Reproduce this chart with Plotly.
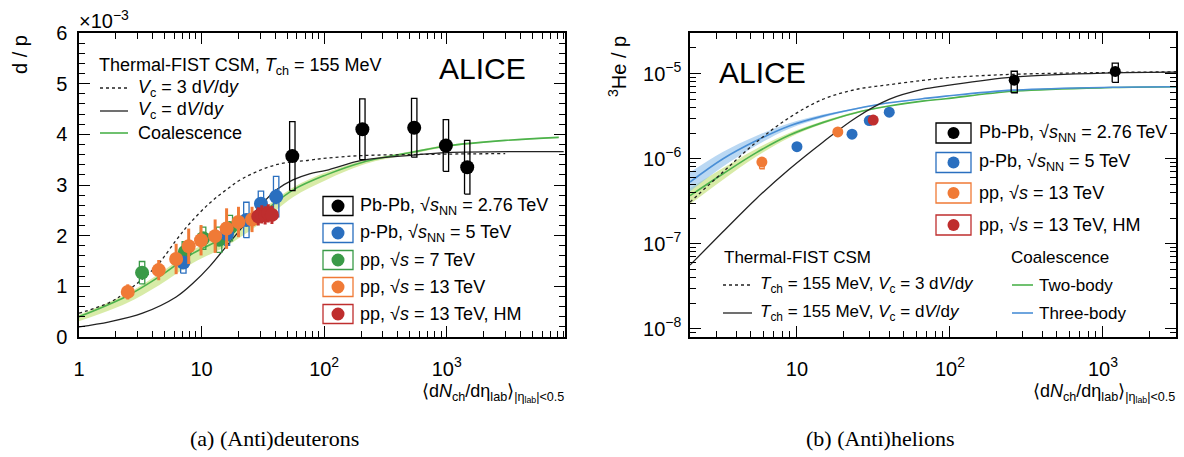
import plotly.graph_objects as go
import numpy as np

# ---------------- data: (a) (Anti)deuterons, d/p in units of 1e-3 ----------------
pbpb_x = [55, 205, 543, 985, 1470]
pbpb_y = [3.57, 4.10, 4.13, 3.78, 3.35]
pbpb_sys = [0.68, 0.60, 0.58, 0.51, 0.53]
pbpb_stat = [0.10, 0.08, 0.07, 0.07, 0.09]

ppb_x = [7.1, 16.1, 23.2, 30.5, 40.6]
ppb_y = [1.47, 2.03, 2.31, 2.63, 2.77]
ppb_sys = [0.21, 0.22, 0.35, 0.25, 0.40]
ppb_stat = [0.12, 0.10, 0.12, 0.12, 0.15]

pp7_x = [3.27, 7.3, 10.3, 13.9, 17.0]
pp7_y = [1.27, 1.68, 1.95, 1.92, 2.15]
pp7_sys = [0.22, 0.20, 0.22, 0.25, 0.25]
pp7_stat = [0.10, 0.10, 0.10, 0.10, 0.12]

pp13_x = [2.5, 4.47, 6.2, 7.85, 9.9, 12.9, 16.0, 20.0, 25.8]
pp13_y = [0.89, 1.32, 1.54, 1.79, 1.91, 1.99, 2.14, 2.27, 2.32]
pp13_err = [0.15, 0.20, 0.30, 0.35, 0.30, 0.33, 0.40, 0.30, 0.25]

hm_x = [29.0, 31.0, 33.0, 35.0, 37.5]
hm_y = [2.38, 2.42, 2.40, 2.44, 2.41]
hm_err = [0.18, 0.18, 0.18, 0.18, 0.18]

# model curves
csm3_x = [1, 1.77, 2.42, 4.25, 6.2, 8.0, 11.6, 15.8, 21.7, 40.5, 76, 104, 200, 500, 1000, 3000]
csm3_y = [0.47, 0.68, 0.89, 1.39, 1.91, 2.24, 2.64, 2.90, 3.13, 3.40, 3.49, 3.53, 3.58, 3.60, 3.61, 3.62]
csm1_x = [1, 1.77, 3.3, 6.2, 8.5, 11.6, 15.8, 21.7, 29.7, 40.5, 55.6, 76, 104, 207, 530, 1000, 9000]
csm1_y = [0.20, 0.30, 0.47, 0.79, 1.06, 1.39, 1.78, 2.18, 2.57, 2.90, 3.10, 3.22, 3.29, 3.49, 3.59, 3.64, 3.66]
coal_x = [1, 2.42, 4.5, 8.5, 15.8, 29.7, 55.6, 104, 207, 530, 1000, 3000, 8200]
coal_y = [0.40, 0.80, 1.19, 1.65, 1.98, 2.41, 2.90, 3.20, 3.45, 3.65, 3.77, 3.88, 3.94]
coal_lo = [0.31, 0.66, 1.02, 1.46, 1.79, 2.23, 2.76, 3.10, 3.40, 3.62, 3.75, 3.87, 3.93]
coal_hi = [0.44, 0.85, 1.25, 1.72, 2.05, 2.48, 2.95, 3.25, 3.48, 3.67, 3.79, 3.89, 3.95]

# ---------------- data: (b) (Anti)helions, 3He/p ----------------
he_pbpb_x = [263, 1203]
he_pbpb_y = [8.35e-6, 1.06e-5]
he_pbpb_lo = [5.95e-6, 7.9e-6]
he_pbpb_hi = [1.065e-5, 1.33e-5]

he_ppb_x = [10.0, 22.9, 29.7, 40.1]
he_ppb_y = [1.38e-6, 1.94e-6, 2.80e-6, 3.52e-6]

he_pp13_x = [5.9, 18.5]
he_pp13_y = [9.1e-7, 2.06e-6]
he_pp13_lo = [7.6e-7, 1.95e-6]
he_pp13_hi = [9.6e-7, 2.15e-6]

he_hm_x = [31.5]
he_hm_y = [2.84e-6]

r_x = [2, 3.27, 5.4, 8.9, 14.7, 24.3, 40, 66, 94, 258, 1160, 3000]
r_csm3 = [3.08e-7, 6.9e-7, 1.55e-6, 3.03e-6, 4.96e-6, 6.5e-6, 7.4e-6, 8.3e-6, 8.9e-6, 9.8e-6, 1.03e-5, 1.05e-5]
r_csm1 = [5.6e-8, 1.37e-7, 3.36e-7, 7.5e-7, 1.55e-6, 3.03e-6, 4.97e-6, 6.5e-6, 7.2e-6, 9.1e-6, 1.02e-5, 1.04e-5]
r_three = [5.3e-7, 9.9e-7, 1.62e-6, 2.42e-6, 3.16e-6, 3.86e-6, 4.54e-6, 5.06e-6, 5.43e-6, 6.38e-6, 6.9e-6, 7.0e-6]
r_three_hi = [6.9e-7, 1.2e-6, 1.85e-6, 2.6e-6, 3.3e-6, 3.95e-6, 4.6e-6, 5.1e-6, 5.46e-6, 6.4e-6, 6.92e-6, 7.02e-6]
r_three_lo = [4.1e-7, 8.0e-7, 1.42e-6, 2.25e-6, 3.03e-6, 3.78e-6, 4.48e-6, 5.02e-6, 5.4e-6, 6.36e-6, 6.88e-6, 6.98e-6]
r_two = [3.67e-7, 6.6e-7, 1.17e-6, 1.88e-6, 2.65e-6, 3.47e-6, 4.15e-6, 4.74e-6, 5.06e-6, 6.2e-6, 6.85e-6, 7.0e-6]
r_two_hi = [4.5e-7, 7.7e-7, 1.3e-6, 2.0e-6, 2.75e-6, 3.55e-6, 4.2e-6, 4.78e-6, 5.1e-6, 6.22e-6, 6.87e-6, 7.02e-6]
r_two_lo = [2.9e-7, 5.6e-7, 1.05e-6, 1.76e-6, 2.55e-6, 3.4e-6, 4.1e-6, 4.7e-6, 5.02e-6, 6.18e-6, 6.83e-6, 6.98e-6]

# ---------------- style ----------------
C_BLACK = "#000000"
C_BLUE = "#2a6fbf"
C_GREEN = "#3a9a48"
C_ORANGE = "#f07a36"
C_RED = "#bf2e2e"
C_CGREEN = "#4cb24c"
C_CBLUE = "#4a8fd6"
FONT = "Liberation Sans"

W, H = 1184, 457
ML, MR, MT, MB = 79, 8, 33, 120          # plotting region in pixels
PW, PH = W - ML - MR, H - MT - MB
def fx(p): return (p - ML) / PW
def fy(p): return (H - MB - p) / PH

fig = go.Figure()

def boxes(xs, lo, hi, hd=0.022):
    X, Y = [], []
    for x, l, h in zip(xs, lo, hi):
        a, b = x * 10 ** -hd, x * 10 ** hd
        X += [a, b, b, a, a, None]
        Y += [l, l, h, h, l, None]
    return X, Y

def add(tr, right=False):
    if right:
        tr.update(xaxis="x2", yaxis="y2")
    fig.add_trace(tr)

# ---- left panel ----
add(go.Scatter(x=coal_x, y=coal_lo, mode="lines", line=dict(width=0, shape="spline"), hoverinfo="skip"))
add(go.Scatter(x=coal_x, y=coal_hi, mode="lines", line=dict(width=0, shape="spline"), fill="tonexty",
               fillcolor="rgba(195,225,120,0.65)", hoverinfo="skip"))
add(go.Scatter(x=coal_x, y=coal_y, mode="lines", line=dict(color=C_CGREEN, width=1.6, shape="spline")))
add(go.Scatter(x=csm1_x, y=csm1_y, mode="lines", line=dict(color="#222", width=1.3, shape="spline")))
add(go.Scatter(x=csm3_x, y=csm3_y, mode="lines", line=dict(color="#222", width=1.3, dash="3px,3px", shape="spline")))

for xs, ys, sy, st, col in [(pbpb_x, pbpb_y, pbpb_sys, pbpb_stat, C_BLACK),
                            (ppb_x, ppb_y, ppb_sys, ppb_stat, C_BLUE),
                            (pp7_x, pp7_y, pp7_sys, pp7_stat, C_GREEN)]:
    bx, by = boxes(xs, [y - s for y, s in zip(ys, sy)], [y + s for y, s in zip(ys, sy)])
    add(go.Scatter(x=bx, y=by, mode="lines", line=dict(color=col, width=1.3), hoverinfo="skip"))

for xs, ys, er, col, sz in [(pp7_x, pp7_y, pp7_stat, C_GREEN, 14),
                            (ppb_x, ppb_y, ppb_stat, C_BLUE, 14),
                            (pp13_x, pp13_y, pp13_err, C_ORANGE, 14),
                            (hm_x, hm_y, hm_err, C_RED, 14),
                            (pbpb_x, pbpb_y, pbpb_stat, C_BLACK, 14)]:
    add(go.Scatter(x=xs, y=ys, mode="markers",
                   marker=dict(color=col, size=sz, line=dict(width=0)),
                   error_y=dict(type="data", array=er, color=col, thickness=3, width=0)))

# ---- right panel ----
add(go.Scatter(x=r_x, y=r_two_lo, mode="lines", line=dict(width=0, shape="spline"), hoverinfo="skip"), True)
add(go.Scatter(x=r_x, y=r_two_hi, mode="lines", line=dict(width=0, shape="spline"), fill="tonexty",
               fillcolor="rgba(195,225,120,0.65)", hoverinfo="skip"), True)
add(go.Scatter(x=r_x, y=r_three_lo, mode="lines", line=dict(width=0, shape="spline"), hoverinfo="skip"), True)
add(go.Scatter(x=r_x, y=r_three_hi, mode="lines", line=dict(width=0, shape="spline"), fill="tonexty",
               fillcolor="rgba(140,190,235,0.6)", hoverinfo="skip"), True)
add(go.Scatter(x=r_x, y=r_two, mode="lines", line=dict(color=C_CGREEN, width=1.6, shape="spline")), True)
add(go.Scatter(x=r_x, y=r_three, mode="lines", line=dict(color=C_CBLUE, width=1.6, shape="spline")), True)
add(go.Scatter(x=r_x, y=r_csm1, mode="lines", line=dict(color="#222", width=1.3, shape="spline")), True)
add(go.Scatter(x=r_x, y=r_csm3, mode="lines", line=dict(color="#222", width=1.3, dash="3px,3px", shape="spline")), True)

bx, by = boxes(he_pbpb_x, he_pbpb_lo, he_pbpb_hi, 0.02)
add(go.Scatter(x=bx, y=by, mode="lines", line=dict(color=C_BLACK, width=1.3), hoverinfo="skip"), True)
bx, by = boxes(he_pp13_x, he_pp13_lo, he_pp13_hi, 0.015)
add(go.Scatter(x=bx, y=by, mode="lines", line=dict(color=C_ORANGE, width=1.3), hoverinfo="skip"), True)

for xs, ys, col in [(he_ppb_x, he_ppb_y, C_BLUE), (he_pp13_x, he_pp13_y, C_ORANGE),
                    (he_hm_x, he_hm_y, C_RED), (he_pbpb_x, he_pbpb_y, C_BLACK)]:
    add(go.Scatter(x=xs, y=ys, mode="markers", marker=dict(color=col, size=11, line=dict(width=0))), True)

# ---------------- axes ----------------
def minor_log(decades, upto=None):
    v = []
    for d in decades:
        for m in range(2, 10):
            val = m * 10 ** d
            if upto is None or val <= upto:
                v.append(val)
    return v

common = dict(showline=True, linecolor="black", linewidth=1.5, mirror="allticks", ticks="inside",
              tickcolor="black", ticklen=11, tickwidth=1.2, showgrid=False, zeroline=False,
              automargin=False, tickfont=dict(family=FONT, size=20, color="black"))
minor_common = dict(ticks="inside", ticklen=6, tickcolor="black", tickwidth=1, showgrid=False)

fig.update_layout(
    xaxis=dict(common, type="log", domain=[0, fx(565)], range=[0, 3.965], anchor="y",
               tickmode="array", tickvals=[1, 10, 100, 1000],
               ticktext=["1", "10", "10<sup>2</sup>", "10<sup>3</sup>"], ticklabelstandoff=13,
               minor=dict(minor_common, tickmode="array", tickvals=minor_log([0, 1, 2, 3]))),
    yaxis=dict(common, domain=[0, 1], range=[0, 6], anchor="x",
               tickmode="array", tickvals=[0, 1, 2, 3, 4, 5, 6], ticklabelstandoff=6,
               minor=dict(minor_common, dtick=0.2, tick0=0)),
    xaxis2=dict(common, type="log", domain=[fx(690), 1], range=[np.log10(2), np.log10(3000)],
                anchor="y2", tickmode="array", tickvals=[10, 100, 1000],
                ticktext=["10", "10<sup>2</sup>", "10<sup>3</sup>"], ticklabelstandoff=13,
                minor=dict(minor_common, tickmode="array", tickvals=minor_log([0, 1, 2, 3], 3000))),
    yaxis2=dict(common, type="log", domain=[0, 1], range=[-8.097, -4.523], anchor="x2",
                tickmode="array", tickvals=[1e-8, 1e-7, 1e-6, 1e-5],
                ticktext=["10<sup>−8</sup>", "10<sup>−7</sup>", "10<sup>−6</sup>", "10<sup>−5</sup>"],
                ticklabelstandoff=3,
                minor=dict(minor_common, tickmode="array", tickvals=minor_log([-9, -8, -7, -6, -5]))),
    width=W, height=H, margin=dict(l=ML, r=MR, t=MT, b=MB, pad=0, autoexpand=False),
    paper_bgcolor="white", plot_bgcolor="white", showlegend=False,
)

# ---------------- annotations / legends ----------------
ann = []
def text(x, y, s, size=18, xa="left", family=FONT, angle=0, ya="middle"):
    ann.append(dict(x=fx(x), y=fy(y), xref="paper", yref="paper", text=s, showarrow=False,
                    xanchor=xa, yanchor=ya, textangle=angle,
                    font=dict(family=family, size=size, color="black")))

shapes = []
def line(x0, y0, x1, y1, col, dash="solid", w=1.3):
    shapes.append(dict(type="line", xref="paper", yref="paper", x0=fx(x0), y0=fy(y0), x1=fx(x1), y1=fy(y1),
                       line=dict(color=col, width=w, dash=dash)))
def rect(x0, y0, x1, y1, col):
    shapes.append(dict(type="rect", xref="paper", yref="paper", x0=fx(x0), y0=fy(y0), x1=fx(x1), y1=fy(y1),
                       line=dict(color=col, width=1.3)))
def dot(cx, cy, r, col):
    shapes.append(dict(type="circle", xref="paper", yref="paper", x0=fx(cx - r), y0=fy(cy + r),
                       x1=fx(cx + r), y1=fy(cy - r), fillcolor=col, line=dict(width=0)))

# axis titles
text(20, 55, "d / p", size=20, xa="center", angle=-90)
text(77, 19, "×10<sup>−3</sup>", size=20)
text(618, 67, "<sup>3</sup>He / p", size=20, xa="center", angle=-90)
xt = "⟨d<i>N</i><sub>ch</sub>/dη<sub>lab</sub>⟩<sub>|η<sub>lab</sub>|&lt;0.5</sub>"
text(566, 393, xt, size=18, xa="right")
text(1177, 393, xt, size=18, xa="right")

# captions
text(274, 438, "(a) (Anti)deuterons", size=22, xa="center", family="Liberation Serif")
text(880, 438, "(b) (Anti)helions", size=22, xa="center", family="Liberation Serif")

# ALICE
text(482, 68, "ALICE", size=30, xa="center")
text(762, 72, "ALICE", size=30, xa="center")

# left model legend
text(97, 66, "Thermal-FIST CSM, <i>T</i><sub>ch</sub> = 155 MeV", size=18)
line(100, 88, 128, 88, "#222", "3px,3px")
text(136, 88, "<i>V</i><sub>c</sub> = 3 d<i>V</i>/d<i>y</i>", size=18)
line(100, 111, 128, 111, "#222")
text(136, 111, "<i>V</i><sub>c</sub> = d<i>V</i>/d<i>y</i>", size=18)
line(100, 133, 128, 133, C_CGREEN, w=1.6)
text(136, 133, "Coalescence", size=18)

# left data legend
left_rows = [(206, C_BLACK, "Pb-Pb, √<i>s</i><sub>NN</sub> = 2.76 TeV"),
             (233, C_BLUE, "p-Pb, √<i>s</i><sub>NN</sub> = 5 TeV"),
             (260, C_GREEN, "pp, √<i>s</i> = 7 TeV"),
             (287, C_ORANGE, "pp, √<i>s</i> = 13 TeV"),
             (314, C_RED, "pp, √<i>s</i> = 13 TeV, HM")]
for yy, col, s in left_rows:
    rect(323, yy - 9.5, 353, yy + 9.5, col)
    dot(338, yy, 6.5, col)
    text(358, yy, s, size=18)

# right data legend
right_rows = [(133, C_BLACK, "Pb-Pb, √<i>s</i><sub>NN</sub> = 2.76 TeV"),
              (162.5, C_BLUE, "p-Pb, √<i>s</i><sub>NN</sub> = 5 TeV"),
              (193, C_ORANGE, "pp, √<i>s</i> = 13 TeV"),
              (225, C_RED, "pp, √<i>s</i> = 13 TeV, HM")]
for yy, col, s in right_rows:
    rect(936, yy - 10, 971, yy + 10, col)
    dot(953.5, yy, 6, col)
    text(977, yy, s, size=18)

# right model legend
text(722, 257, "Thermal-FIST CSM", size=17)
line(723, 285, 752, 285, "#222", "3px,3px")
text(758, 285, "<i>T</i><sub>ch</sub> = 155 MeV, <i>V</i><sub>c</sub> = 3 d<i>V</i>/d<i>y</i>", size=17)
line(723, 313, 752, 313, "#222")
text(758, 313, "<i>T</i><sub>ch</sub> = 155 MeV, <i>V</i><sub>c</sub> = d<i>V</i>/d<i>y</i>", size=17)
text(1009, 257, "Coalescence", size=17)
line(1012, 285, 1033, 285, C_CGREEN, w=1.6)
text(1037, 285, "Two-body", size=17)
line(1012, 313, 1033, 313, C_CBLUE, w=1.6)
text(1037, 313, "Three-body", size=17)

fig.update_layout(annotations=ann, shapes=shapes)
fig.write_html("out.html", config={"displayModeBar": False},
               post_script="document.body.style.margin='0';document.body.style.padding='0';")
